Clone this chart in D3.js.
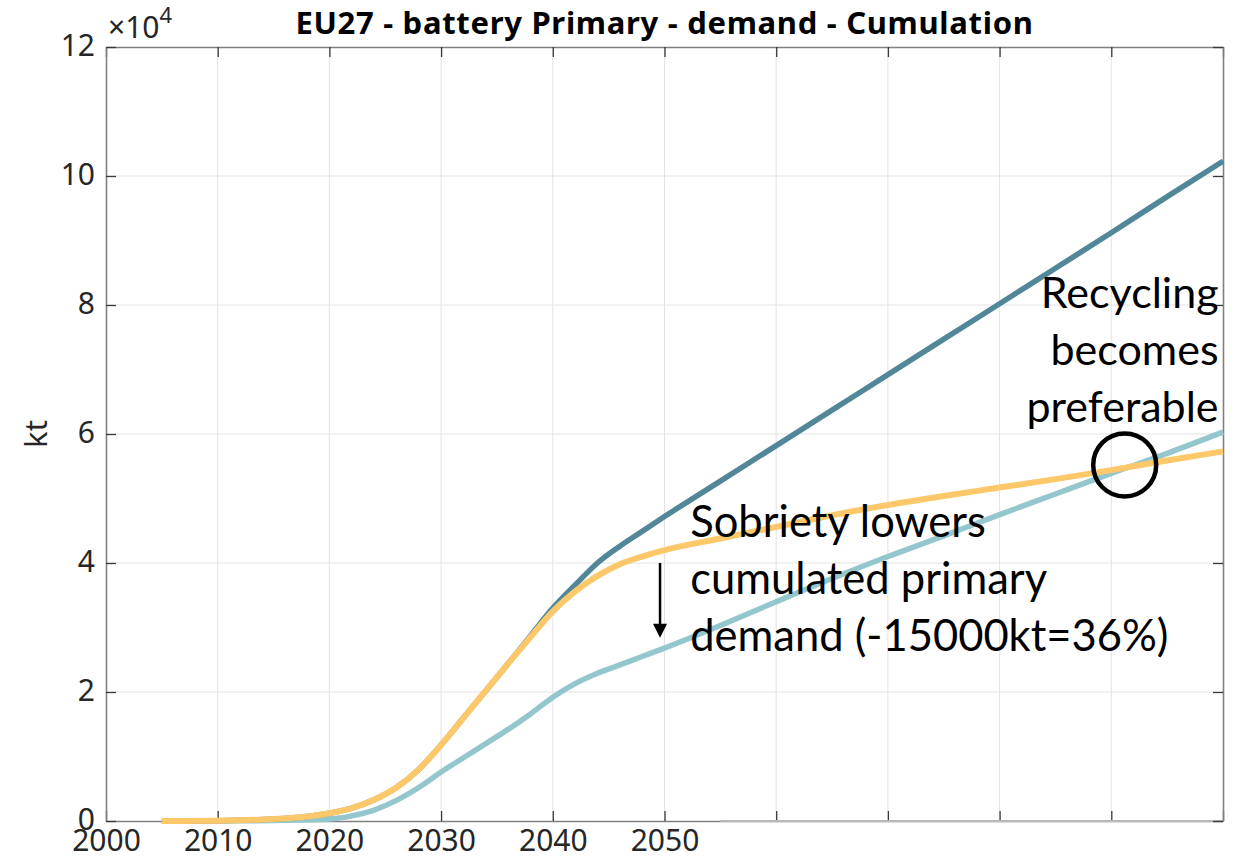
<!DOCTYPE html>
<html><head><meta charset="utf-8">
<script src="https://cdn.jsdelivr.net/npm/d3@7"></script>
<style>body{margin:0;background:#fff}svg{display:block}</style>
</head><body>
<svg id="c" width="1237" height="860"></svg>
<script>
const years = [2005,2010,2015,2018,2020,2022,2024,2026,2028,2030,2032,2034,2036,2038,2040,2042,2044,2046,2048,2050,2055,2060,2065,2070,2075,2080,2085,2090,2095,2100];
const referenceSeries = [0,0.005,0.03,0.07,0.12,0.20,0.33,0.52,0.80,1.18,1.60,2.02,2.44,2.87,3.30,3.66,4.00,4.26,4.49,4.72,5.27,5.82,6.37,6.92,7.47,8.02,8.57,9.12,9.68,10.23];
const recyclingSeries = [0,0.005,0.03,0.07,0.12,0.20,0.33,0.52,0.80,1.18,1.60,2.02,2.44,2.85,3.25,3.56,3.80,3.98,4.10,4.20,4.38,4.56,4.74,4.90,5.04,5.17,5.30,5.44,5.59,5.73];
const sobrietySeries = [0,0.002,0.008,0.018,0.03,0.08,0.17,0.32,0.52,0.76,0.98,1.20,1.42,1.66,1.92,2.13,2.29,2.42,2.55,2.68,3.03,3.40,3.76,4.10,4.42,4.75,5.07,5.39,5.70,6.03];
const xGridYears = [2000,2010,2020,2030,2040,2050,2060,2070,2080,2090,2100];
const xTickLabels = ["2000","2010","2020","2030","2040","2050"];
const yTicks = [0,2,4,6,8,10,12];
const titleText = "EU27 - battery Primary - demand - Cumulation";
const yLabel = "kt";
const sobrietyNote = ["Sobriety lowers","cumulated primary","demand (-15000kt=36%)"];
const recyclingNote = ["Recycling","becomes","preferable"];
const crossPoint = {year: 2091.2, value: 5.52};
const arrowFrom = {year: 2049.6, value: 4.0};
const arrowTo = {year: 2049.6, value: 2.84};
const sobrietyNoteAt = {year: 2052.3, value: 4.4};
const recyclingNoteAt = {year: 2099.6, value: 7.96};

const W = 1237, H = 860;
const m = {l:106, r:14, t:47, b:39};
const svg = d3.select("#c");
const x = d3.scaleLinear().domain([2000,2100]).range([m.l, W-m.r]);
const y = d3.scaleLinear().domain([0,12]).range([H-m.b, m.t]);
const tickFont = "'Noto Sans', sans-serif";
const noteFont = "Lato, 'Noto Sans', sans-serif";

// grid
const g = svg.append("g");
g.selectAll(".vg").data(xGridYears.slice(1,-1)).join("line")
  .attr("x1",d=>x(d)).attr("x2",d=>x(d)).attr("y1",y(0)).attr("y2",y(12))
  .attr("stroke","#e3e3e3").attr("stroke-width",1);
g.selectAll(".hg").data(yTicks.slice(1,-1)).join("line")
  .attr("y1",d=>y(d)).attr("y2",d=>y(d)).attr("x1",x(2000)).attr("x2",x(2100))
  .attr("stroke","#e3e3e3").attr("stroke-width",1);

// axes via d3
const axColor = "#808080";
const tl = 10;
const bottomAx = d3.axisBottom(x).tickValues(xGridYears).tickSize(-tl).tickSizeOuter(0).tickFormat(d=> xTickLabels.includes(String(d)) ? String(d) : "");
const topAx = d3.axisTop(x).tickValues(xGridYears).tickSize(-tl).tickSizeOuter(0).tickFormat("");
const leftAx = d3.axisLeft(y).tickValues(yTicks).tickSize(-tl).tickSizeOuter(0).tickFormat(d=>String(d));
const rightAx = d3.axisRight(y).tickValues(yTicks).tickSize(-tl).tickSizeOuter(0).tickFormat("");

function style(sel){
  sel.selectAll("path.domain").attr("stroke",axColor).attr("stroke-width",1.6);
  sel.selectAll(".tick line").attr("stroke","#3a3a3a").attr("stroke-width",1.3);
  sel.selectAll(".tick text").attr("fill","#262626").style("font-family",tickFont).style("font-size","30px");
}
const gb = svg.append("g").attr("transform",`translate(0,${y(0)})`).call(bottomAx).call(style);
gb.selectAll(".tick text").attr("dy",null).attr("y",30);
gb.append("line").attr("x1",x(2055)).attr("x2",x(2100)).attr("y1",0).attr("y2",0).attr("stroke","#b8b8b8").attr("stroke-width",1.8);
svg.append("g").attr("transform",`translate(0,${y(12)})`).call(topAx).call(style);
const gl = svg.append("g").attr("transform",`translate(${x(2000)},0)`).call(leftAx).call(style);
gl.selectAll(".tick text").attr("x",-11).attr("dy",null).attr("y",8);
svg.append("g").attr("transform",`translate(${x(2100)},0)`).call(rightAx).call(style);

// exponent label
const ex = svg.append("text").attr("x",x(2000)+2).attr("y",y(12)-9)
  .style("font-family",tickFont).style("font-size","30px").attr("fill","#262626");
ex.append("tspan").text("\u00d710");
ex.append("tspan").attr("dy",-15).style("font-size","22px").text("4");

// y label
svg.append("text").attr("transform",`translate(47,${(y(0)+y(12))/2}) rotate(-90)`)
  .attr("text-anchor","middle").style("font-family",tickFont).style("font-size","31px").attr("fill","#262626").text(yLabel);

// title
svg.append("text").attr("x",(x(2000)+x(2100))/2).attr("y",34).attr("text-anchor","middle")
  .style("font-family",tickFont).style("font-weight","bold").style("font-size","31px").style("letter-spacing","0.7px").attr("fill","#000").text(titleText);

// lines
const line = d3.line().x((d,i)=>x(years[i])).y(d=>y(d)).curve(d3.curveMonotoneX);
const series = [
  {v: sobrietySeries, c:"#94c6cd", w:5.5},
  {v: referenceSeries, c:"#528799", w:5.5},
  {v: recyclingSeries, c:"#fcc86a", w:6}
];
svg.selectAll(".s").data(series).join("path")
  .attr("d",d=>line(d.v)).attr("fill","none").attr("stroke",d=>d.c).attr("stroke-width",d=>d.w).attr("stroke-linecap","butt");

// annotations
svg.append("circle").attr("cx",x(crossPoint.year)).attr("cy",y(crossPoint.value)).attr("r",31.5)
  .attr("fill","none").attr("stroke","#000").attr("stroke-width",4.5);

const ax0 = x(arrowFrom.year), ay0 = y(arrowFrom.value), ay1 = y(arrowTo.value);
svg.append("line").attr("x1",ax0).attr("x2",ax0).attr("y1",ay0).attr("y2",ay1-12).attr("stroke","#000").attr("stroke-width",2.5);
svg.append("path").attr("d",`M${ax0-7},${ay1-14} L${ax0+7},${ay1-14} L${ax0},${ay1} Z`).attr("fill","#000");

const t1 = svg.append("text").attr("x",x(sobrietyNoteAt.year)).attr("y",y(sobrietyNoteAt.value))
  .style("font-family",noteFont).style("font-size","43.5px").attr("fill","#000");
sobrietyNote.forEach((s,i)=>t1.append("tspan").attr("x",x(sobrietyNoteAt.year)).attr("dy",i?57:0).text(s));

const t2 = svg.append("text").attr("x",x(recyclingNoteAt.year)).attr("y",y(recyclingNoteAt.value)).attr("text-anchor","end")
  .style("font-family",noteFont).style("font-size","43px").attr("fill","#000");
recyclingNote.forEach((s,i)=>t2.append("tspan").attr("x",x(recyclingNoteAt.year)).attr("dy",i?57:0).text(s));
</script>
</body></html>
